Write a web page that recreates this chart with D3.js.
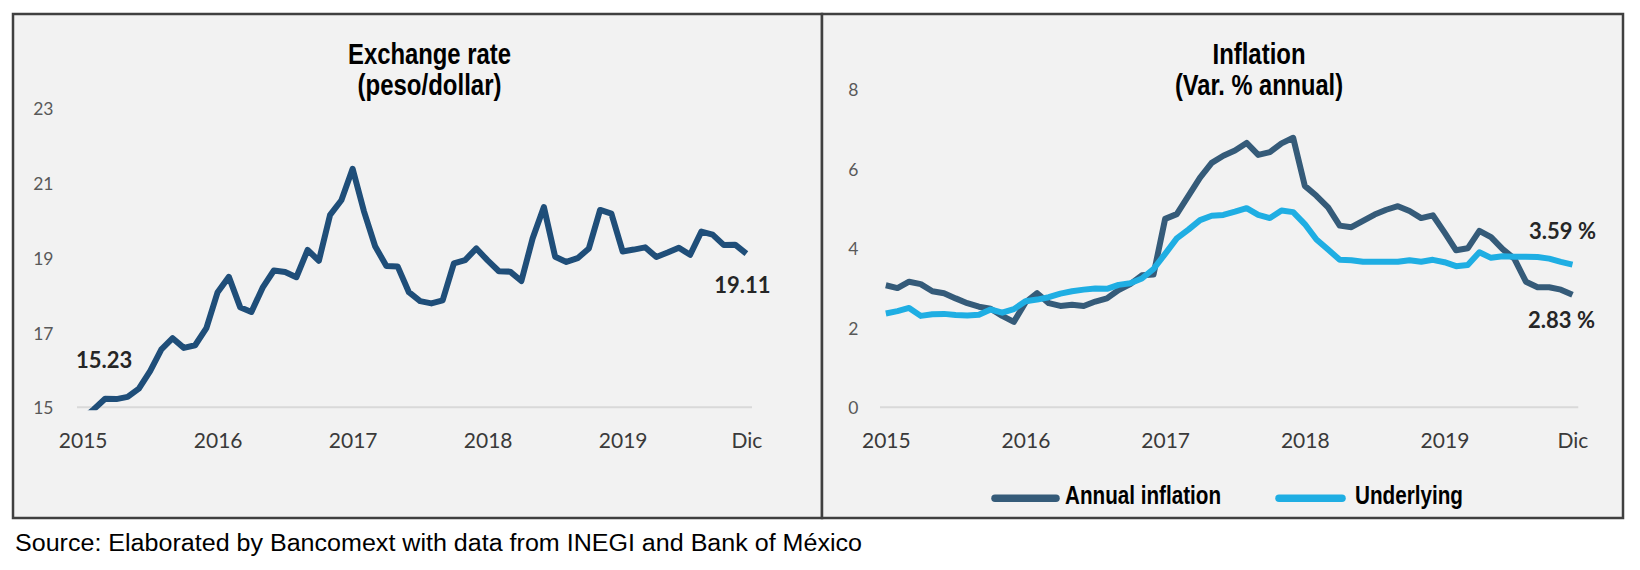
<!DOCTYPE html>
<html>
<head>
<meta charset="utf-8">
<script src="https://cdn.jsdelivr.net/npm/d3@7"></script>
<style>
  html, body { margin: 0; padding: 0; background: #fff; }
  svg { display: block; }
</style>
</head>
<body>
<div id="chart"></div>
<script>
// ----- Data (monthly, Jan 2015 – Dec 2019) -----
const years = [2015, 2016, 2017, 2018, 2019];
const monthNames = ["Ene", "Feb", "Mar", "Abr", "May", "Jun", "Jul", "Ago", "Sep", "Oct", "Nov", "Dic"];
const months = years.flatMap(y => monthNames.map(m => `${m} ${y}`));

const xTickIndex = [0, 12, 24, 36, 48, 59];
const xTickLabels = ["2015", "2016", "2017", "2018", "2019", "Dic"];

const rateTicks = [15, 17, 19, 21, 23];
const inflationTicks = [0, 2, 4, 6, 8];

// peso per dollar
const exchangeRate = [
  14.69, 14.95, 15.23, 15.22, 15.28, 15.50, 15.97, 16.55, 16.85, 16.59, 16.66, 17.12,
  18.08, 18.49, 17.68, 17.55, 18.20, 18.66, 18.62, 18.48, 19.21, 18.92, 20.15, 20.54,
  21.38, 20.25, 19.31, 18.78, 18.77, 18.08, 17.84, 17.78, 17.86, 18.85, 18.94, 19.25,
  18.93, 18.64, 18.63, 18.38, 19.52, 20.36, 19.03, 18.89, 18.99, 19.25, 20.28, 20.18,
  19.17, 19.22, 19.28, 19.02, 19.14, 19.27, 19.08, 19.70, 19.62, 19.34, 19.35, 19.11
];

// annual % change
const annualInflation = [
  3.07, 3.00, 3.16, 3.10, 2.92, 2.87, 2.74, 2.62, 2.53, 2.48, 2.30, 2.15,
  2.64, 2.87, 2.62, 2.55, 2.58, 2.55, 2.66, 2.74, 2.95, 3.10, 3.32, 3.34,
  4.74, 4.86, 5.32, 5.78, 6.15, 6.33, 6.46, 6.65, 6.35, 6.42, 6.64, 6.78,
  5.57, 5.32, 5.03, 4.57, 4.53, 4.69, 4.85, 4.97, 5.06, 4.94, 4.76, 4.83,
  4.40, 3.95, 4.00, 4.44, 4.28, 3.98, 3.74, 3.16, 3.02, 3.02, 2.96, 2.83
];

const underlyingInflation = [
  2.36, 2.42, 2.50, 2.30, 2.34, 2.35, 2.32, 2.31, 2.33, 2.46, 2.38, 2.47,
  2.67, 2.71, 2.77, 2.86, 2.92, 2.96, 2.99, 2.98, 3.08, 3.12, 3.24, 3.48,
  3.86, 4.25, 4.47, 4.71, 4.82, 4.84, 4.92, 5.01, 4.84, 4.76, 4.95, 4.91,
  4.61, 4.22, 3.97, 3.71, 3.70, 3.66, 3.66, 3.66, 3.66, 3.70, 3.66, 3.71,
  3.65, 3.55, 3.58, 3.90, 3.76, 3.80, 3.79, 3.79, 3.78, 3.74, 3.66, 3.59
];

// ----- Styling -----
const W = 1640, H = 570;
// no narrow face installed: Liberation Sans squeezed with textLength
const NARROW = "'Liberation Sans', Arial, sans-serif";
const TICKFONT = "Lato, 'Open Sans', sans-serif";
const COL_RATE = "#1f4e79";
const COL_ANNUAL = "#355b79";
const COL_UNDER = "#1faee3";

const svg = d3.select("#chart").append("svg")
  .attr("width", W)
  .attr("height", H)
  .style("background", "#fff");

// Panel boxes
const panels = [
  { x: 13, y: 14, w: 809, h: 504 },
  { x: 822, y: 14, w: 801, h: 504 }
];
svg.selectAll("rect.panel").data(panels).enter().append("rect")
  .attr("class", "panel")
  .attr("x", d => d.x).attr("y", d => d.y)
  .attr("width", d => d.w).attr("height", d => d.h)
  .attr("fill", "#f2f2f2")
  .attr("stroke", "#404040")
  .attr("stroke-width", 2.5);

function narrowText(parent, x, y, size, width, anchor, str) {
  return parent.append("text")
    .attr("x", x).attr("y", y)
    .attr("text-anchor", anchor)
    .attr("textLength", width)
    .attr("lengthAdjust", "spacingAndGlyphs")
    .attr("fill", "#000")
    .style("font-family", NARROW)
    .style("font-weight", 700)
    .style("font-size", size + "px")
    .text(str);
}

// ----- One line chart inside a panel -----
function drawPlot(cfg) {
  const g = svg.append("g");

  const x = d3.scalePoint()
    .domain(months)
    .range([cfg.left, cfg.right])
    .padding(0.5);

  const y = d3.scaleLinear()
    .domain(d3.extent(cfg.ticks))
    .range([cfg.bottom, cfg.top]);

  // baseline gridline
  g.append("line")
    .attr("x1", cfg.left).attr("x2", cfg.right)
    .attr("y1", y(cfg.ticks[0])).attr("y2", y(cfg.ticks[0]))
    .attr("stroke", "#d9d9d9")
    .attr("stroke-width", 2);

  // y axis
  const yAxisG = g.append("g")
    .attr("transform", `translate(${cfg.yLabelX},0)`)
    .call(d3.axisLeft(y).tickValues(cfg.ticks).tickSize(0).tickPadding(0));
  yAxisG.select(".domain").remove();
  yAxisG.selectAll("text")
    .attr("dy", "0.38em")
    .attr("fill", "#595959")
    .style("font-family", TICKFONT)
    .style("font-size", "17.5px");

  // x axis
  const xAxisG = g.append("g")
    .attr("transform", `translate(0,${cfg.bottom})`)
    .call(d3.axisBottom(x)
      .tickValues(xTickIndex.map(i => months[i]))
      .tickFormat((d, i) => xTickLabels[i])
      .tickSize(0));
  xAxisG.select(".domain").remove();
  xAxisG.selectAll("text")
    .attr("y", 40.5)
    .attr("dy", 0)
    .attr("fill", "#3a3a3a")
    .style("font-family", TICKFONT)
    .style("font-size", "21px");

  // clip to plot area (first values fall below the axis minimum)
  const clipId = "clip" + cfg.id;
  svg.append("clipPath").attr("id", clipId)
    .append("rect")
    .attr("x", cfg.left).attr("y", cfg.top - 10)
    .attr("width", cfg.right - cfg.left)
    .attr("height", cfg.bottom - cfg.top + 13);

  const line = d3.line()
    .x((d, i) => x(months[i]))
    .y(d => y(d));

  cfg.series.forEach(s => {
    g.append("path")
      .datum(s.values)
      .attr("clip-path", `url(#${clipId})`)
      .attr("fill", "none")
      .attr("stroke", s.color)
      .attr("stroke-width", 6)
      .attr("stroke-linejoin", "round")
      .attr("d", line);
  });

  // value annotations
  cfg.labels.forEach(l => {
    g.append("text")
      .attr("x", x(months[l.index]) + l.dx)
      .attr("y", y(l.value) + l.dy)
      .attr("text-anchor", "middle")
      .attr("fill", "#262626")
      .style("font-family", TICKFONT)
      .style("font-weight", 700)
      .style("font-size", "22px")
      .text(l.text);
  });

  // two-line title
  narrowText(g, cfg.titleX, 64, 29, cfg.titleWidths[0], "middle", cfg.title[0]);
  narrowText(g, cfg.titleX, 95, 29, cfg.titleWidths[1], "middle", cfg.title[1]);

  return { x, y };
}

drawPlot({
  id: "rate",
  left: 77, right: 752, top: 108.3, bottom: 407.3,
  yLabelX: 53.5,
  ticks: rateTicks,
  title: ["Exchange rate", "(peso/dollar)"],
  titleWidths: [163, 144],
  titleX: 429.5,
  series: [{ values: exchangeRate, color: COL_RATE }],
  labels: [
    { index: 2, value: exchangeRate[2], text: "15.23", dx: -1, dy: -31 },
    { index: 59, value: exchangeRate[59], text: "19.11", dx: -4, dy: 39 }
  ]
});

drawPlot({
  id: "infl",
  left: 880, right: 1578.3, top: 89.3, bottom: 407.3,
  yLabelX: 858.5,
  ticks: inflationTicks,
  title: ["Inflation", "(Var. % annual)"],
  titleWidths: [93, 168],
  titleX: 1259,
  series: [
    { values: annualInflation, color: COL_ANNUAL },
    { values: underlyingInflation, color: COL_UNDER }
  ],
  labels: [
    { index: 59, value: underlyingInflation[59], text: "3.59 %", dx: -10, dy: -26 },
    { index: 59, value: annualInflation[59], text: "2.83 %", dx: -11, dy: 33.5 }
  ]
});

// ----- Legend (inflation panel) -----
const legendItems = [
  { name: "Annual inflation", color: COL_ANNUAL, x1: 995, x2: 1056, tx: 1065, tw: 156 },
  { name: "Underlying", color: COL_UNDER, x1: 1279, x2: 1342, tx: 1355, tw: 108 }
];
const lg = svg.append("g");
legendItems.forEach(d => {
  lg.append("line")
    .attr("x1", d.x1).attr("x2", d.x2)
    .attr("y1", 498.3).attr("y2", 498.3)
    .attr("stroke", d.color)
    .attr("stroke-width", 7.5)
    .attr("stroke-linecap", "round");
  narrowText(lg, d.tx, 504, 25, d.tw, "start", d.name);
});

// ----- Source note -----
svg.append("text")
  .attr("x", 15).attr("y", 550.5)
  .attr("fill", "#000")
  .attr("textLength", 847)
  .attr("lengthAdjust", "spacingAndGlyphs")
  .style("font-family", "'Liberation Sans', Arial, sans-serif")
  .style("font-size", "23.5px")
  .text("Source: Elaborated by Bancomext with data from INEGI and Bank of México");
</script>
</body>
</html>
